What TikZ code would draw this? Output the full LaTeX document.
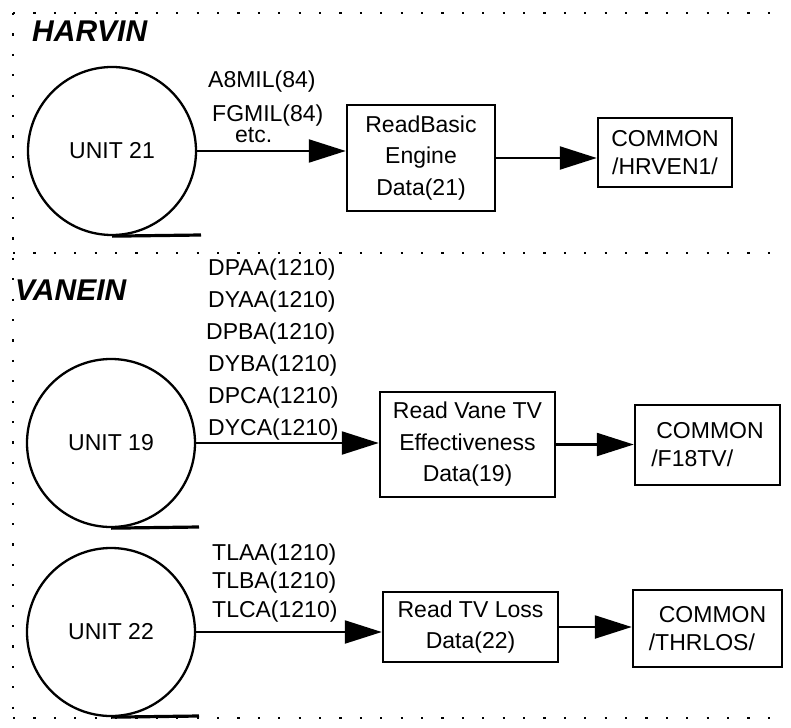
\documentclass[tikz,border=0pt]{standalone}
\usepackage{fontspec}
\setmainfont{Liberation Sans}
\usetikzlibrary{arrows.meta}
\begin{document}
\begin{tikzpicture}[x=1pt,y=-1pt,
  every node/.style={font=\fontsize{23}{31.5}\selectfont},
  unitc/.style={circle,draw,line width=2.3pt,minimum size=168pt,inner sep=0pt},
  procbox/.style={draw,line width=2.5pt,align=center,inner sep=0pt},
  combox/.style={draw,line width=2.5pt,inner sep=0pt,font=\fontsize{23}{28}\selectfont},
  flow/.style={line width=2.3pt,-{Triangle[length=37pt,width=23pt]}},
  tape/.style={line width=3.2pt},
  title/.style={font=\fontsize{30}{36}\selectfont\bfseries\itshape,anchor=base west,inner sep=0pt},
  lbl/.style={anchor=base west,inner sep=0pt},
  frame/.style={line width=1.6pt,dash pattern=on 2.2pt off 18.2pt}]
\useasboundingbox (0,0) rectangle (791,727);

% dotted frame
\draw[frame] (13,13) -- (786,13);
\draw[frame] (13,13) -- (13,720);
\draw[frame] (13,253) -- (786,253);
\draw[frame] (13,718) -- (786,718);

% titles
\node[title] (harvin) at (32,42) {HARVIN};
\node[title] (vanein) at (15,300) {VANEIN};

% HARVIN section
\node[unitc] (u21) at (112,151) {UNIT 21};
\coordinate (t21) at (201,235);
\draw[tape] (u21.south) -- (t21);
\node[procbox,minimum width=148pt,minimum height=106pt] (rb) at (421,158) {ReadBasic\\Engine\\Data(21)};
\node[combox,align=center,minimum width=134pt,minimum height=69pt] (hr) at (665,152.5) {COMMON\\/HRVEN1/};
\draw[flow] (u21.east) -- (u21.east -| rb.west);
\draw[flow] (rb.east) -- (rb.east -| hr.west);
\node[lbl] (l1) at (208,88) {A8MIL(84)};
\node[lbl] (l2) at (212,122) {FGMIL(84)};
\node[lbl] (l3) at (235,143) {etc.};

% VANEIN section
\node[unitc] (u19) at (111,443) {UNIT 19};
\coordinate (t19) at (199,527);
\draw[tape] (u19.south) -- (t19);
\node[procbox,minimum width=175pt,minimum height=105pt] (rv) at (467.5,444.5) {Read Vane TV\\Effectiveness\\Data(19)};
\node[combox,align=left,minimum width=145pt,minimum height=80pt] (f18) at (707.5,445) {\hspace*{5pt}COMMON\\/F18TV/};
\draw[flow] (u19.east) -- (u19.east -| rv.west);
\draw[flow] (rv.east) -- (rv.east -| f18.west);
\node[lbl] (d1) at (208,275) {DPAA(1210)};
\node[lbl] (d2) at (208,307) {DYAA(1210)};
\node[lbl] (d3) at (206,339) {DPBA(1210)};
\node[lbl] (d4) at (208,371) {DYBA(1210)};
\node[lbl] (d5) at (208,403) {DPCA(1210)};
\node[lbl] (d6) at (208,435) {DYCA(1210)};

\node[unitc] (u22) at (111,632) {UNIT 22};
\coordinate (t22) at (199,716);
\draw[tape] (u22.south) -- (t22);
\node[procbox,minimum width=175pt,minimum height=70pt] (rl) at (470.5,627) {Read TV Loss\\Data(22)};
\node[combox,align=left,minimum width=149pt,minimum height=77pt] (thr) at (707.5,628.5) {\hspace*{10pt}COMMON\\/THRLOS/};
\draw[flow] (u22.east) -- (u22.east -| rl.west);
\draw[flow] (rl.east) -- (rl.east -| thr.west);
\node[lbl] (e1) at (212,560) {TLAA(1210)};
\node[lbl] (e2) at (212,588) {TLBA(1210)};
\node[lbl] (e3) at (212,617) {TLCA(1210)};
\end{tikzpicture}
\end{document}
